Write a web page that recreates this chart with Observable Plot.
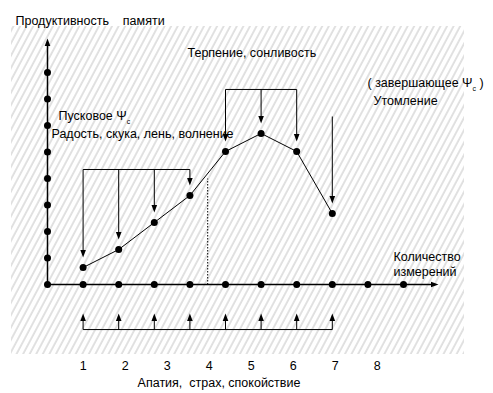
<!DOCTYPE html>
<html><head><meta charset="utf-8">
<script src="https://cdn.jsdelivr.net/npm/d3@7"></script>
<script src="https://cdn.jsdelivr.net/npm/@observablehq/plot@0.6"></script>
<style>body{margin:0;background:#fff}</style>
</head><body><div id="chart"></div>
<script>
// ---- data ----
const measurements = [1, 2, 3, 4, 5, 6, 7, 8];
const productivity = [0.64, 1.32, 2.34, 3.36, 5.02, 5.70, 5.02, 2.68];
const xAxisDots = [0, 1, 2, 3, 4, 5, 6, 7, 8, 9, 10];
const yAxisDots = [1, 2, 3, 4, 5, 6, 7, 8];
const tickLabels = ["1", "2", "3", "4", "5", "6", "7", "8"];
const stageOf = ["start", "start", "start", "start", "peak", "peak", "peak", "end"];
const yTitle = "Продуктивность    памяти";
const xTitle = ["Количество", "измерений"];
const bottomTitle = "Апатия,  страх, спокойствие";
const noteTop = "Терпение, сонливость";
const noteEnd = ["( завершающее Ψ_с )", "Утомление"];
const noteStart = ["Пусковое Ψ_с", "Радость, скука, лень, волнение"];

// ---- layout ----
const W = 493, H = 393;
const ox = 47, oy = 284, sx = 35.6, sy = 26.5;
const px = p => (p - ox) / sx, py = p => (oy - p) / sy;
const stageTop = {start: 4.34, peak: 7.36, end: 6.34};
const gap = 0.38;
const bottomBar = -1.70, bottomTip = -1.09;

const pts = measurements.map((m, i) => ({x: m, y: productivity[i], stage: stageOf[i]}));
const down = pts.map(d => ({x: d.x, y1: stageTop[d.stage], y2: d.y + gap}));
const brackets = d3.groups(pts, d => d.stage).map(([s, g]) => ({x1: g[0].x, x2: g[g.length - 1].x, y: stageTop[s]}));
const up = measurements.map(m => ({x: m, y1: bottomBar, y2: bottomTip}));

const head = {draw(ctx) { ctx.moveTo(0, 0); ctx.lineTo(-2.8, -7.5); ctx.lineTo(2.8, -7.5); ctx.closePath(); }};

const defs = () => {
  const ns = "http://www.w3.org/2000/svg";
  const d = document.createElementNS(ns, "defs");
  const p = document.createElementNS(ns, "pattern");
  p.setAttribute("id", "hatch");
  p.setAttribute("patternUnits", "userSpaceOnUse");
  p.setAttribute("width", "5.8");
  p.setAttribute("height", "10");
  p.setAttribute("patternTransform", "rotate(28)");
  const l = document.createElementNS(ns, "line");
  l.setAttribute("x1", "1"); l.setAttribute("x2", "1");
  l.setAttribute("y1", "0"); l.setAttribute("y2", "10");
  l.setAttribute("stroke", "#c4c4c4"); l.setAttribute("stroke-width", "1");
  p.appendChild(l); d.appendChild(p);
  return d;
};

const fs = 12.5;
const svg = Plot.plot({
  width: W, height: H,
  marginTop: 0, marginRight: 0, marginBottom: 0, marginLeft: 0,
  style: {fontFamily: "'Liberation Sans', Arial, sans-serif", background: "white"},
  x: {domain: [px(0), px(W)], axis: null},
  y: {domain: [py(H), py(0)], axis: null},
  marks: [
    defs,
    Plot.rect([{}], {x1: px(11), x2: px(464), y1: py(354), y2: py(26), fill: "url(#hatch)"}),
    // axes
    Plot.link([{}], {x1: 0, y1: 0, x2: 0, y2: py(44), stroke: "black", strokeWidth: 1.5}),
    Plot.dot([{}], {x: 0, y: py(38), symbol: head, rotate: 180, fill: "black", stroke: "none"}),
    Plot.link([{}], {x1: 0, y1: 0, x2: px(431), y2: 0, stroke: "black", strokeWidth: 1.5}),
    Plot.dot([{}], {x: px(438), y: 0, symbol: head, rotate: -90, fill: "black", stroke: "none"}),
    Plot.dot(xAxisDots, {x: d => d, y: 0, r: 3.5, fill: "black", stroke: "none"}),
    Plot.dot(yAxisDots, {x: 0, y: d => d, r: 3.5, fill: "black", stroke: "none"}),
    // dotted divider
    Plot.link([{}], {x1: 4.5, x2: 4.5, y1: 0, y2: 4.0, stroke: "black", strokeWidth: 1, strokeDasharray: "1.5,1.5"}),
    // data
    Plot.line(pts, {x: "x", y: "y", stroke: "black", strokeWidth: 1}),
    Plot.dot(pts, {x: "x", y: "y", r: 3.5, fill: "black", stroke: "none"}),
    // down arrows
    Plot.link(brackets, {x1: "x1", x2: "x2", y1: "y", y2: "y", stroke: "black", strokeWidth: 1}),
    Plot.link(down, {x1: "x", x2: "x", y1: "y1", y2: d => d.y2 + 0.1, stroke: "black", strokeWidth: 1}),
    Plot.dot(down, {x: "x", y: "y2", symbol: head, fill: "black", stroke: "none"}),
    // up arrows
    Plot.link([{}], {x1: measurements[0], x2: measurements[measurements.length - 1], y1: bottomBar, y2: bottomBar, stroke: "black", strokeWidth: 1}),
    Plot.link(up, {x1: "x", x2: "x", y1: "y1", y2: d => d.y2 - 0.1, stroke: "black", strokeWidth: 1}),
    Plot.dot(up, {x: "x", y: "y2", symbol: head, rotate: 180, fill: "black", stroke: "none"}),
    // texts
    Plot.text([yTitle], {x: px(15), y: py(20), text: d => d, textAnchor: "start", fontSize: fs, fill: "black"}),
    Plot.text([noteTop], {x: px(187), y: py(52), text: d => d, textAnchor: "start", fontSize: fs, fill: "black"}),
    Plot.text([noteEnd[0]], {x: px(367), y: py(82), text: d => d, textAnchor: "start", fontSize: fs, fill: "black"}),
    Plot.text([noteEnd[1]], {x: px(373), y: py(100), text: d => d, textAnchor: "start", fontSize: fs, fill: "black"}),
    Plot.text([noteStart[0]], {x: px(58), y: py(115), text: d => d, textAnchor: "start", fontSize: fs, fill: "black"}),
    Plot.text([noteStart[1]], {x: px(51), y: py(133), text: d => d, textAnchor: "start", fontSize: fs, fill: "black"}),
    Plot.text(xTitle, {x: px(393), y: (d, i) => py(256 + 15 * i), text: d => d, textAnchor: "start", fontSize: fs, fill: "black"}),
    Plot.text(tickLabels, {x: (d, i) => 1 + 1.18 * i, y: py(365), text: d => d, fontSize: fs, fill: "black"}),
    Plot.text([bottomTitle], {x: px(218.5), y: py(382), text: d => d, fontSize: fs, fill: "black"})
  ]
});

// subscripts: "Ψ_с" -> Ψ with small lowered с
svg.querySelectorAll("text").forEach(t => {
  const s = t.textContent;
  if (!s.includes("_")) return;
  const [a, rest] = s.split("_");
  const sub = rest[0], after = rest.slice(1);
  const ns = "http://www.w3.org/2000/svg";
  t.textContent = "";
  const t1 = document.createElementNS(ns, "tspan"); t1.textContent = a;
  const t2 = document.createElementNS(ns, "tspan"); t2.textContent = sub;
  t2.setAttribute("font-size", "7"); t2.setAttribute("dy", "4");
  t.appendChild(t1); t.appendChild(t2);
  if (after) {
    const t3 = document.createElementNS(ns, "tspan"); t3.textContent = after; t3.setAttribute("dy", "-4");
    t.appendChild(t3);
  }
});
document.getElementById("chart").appendChild(svg);
</script>
</body></html>
